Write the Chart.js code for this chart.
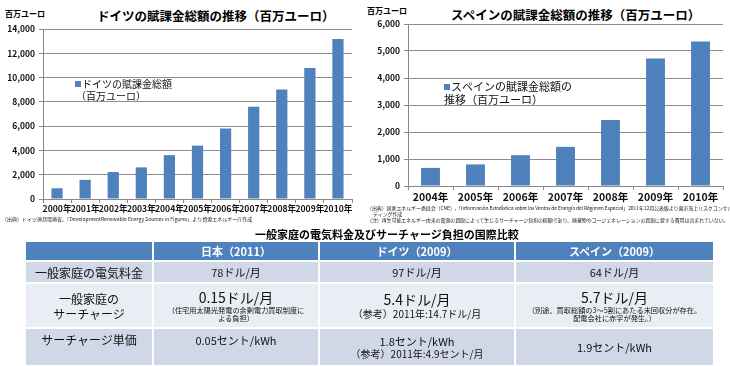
<!DOCTYPE html>
<html><head><meta charset="utf-8">
<script src="https://cdn.jsdelivr.net/npm/chart.js@4.4.1/dist/chart.umd.min.js"></script>
<style>
html,body{margin:0;padding:0;background:#fff;width:730px;height:366px;overflow:hidden;font-family:"Noto Sans CJK JP","Noto Sans",sans-serif;}
.abs{position:absolute;white-space:nowrap;color:#000;}
.title{font-weight:bold;font-size:12.5px;}
.unit{font-weight:bold;font-size:8px;}
.note{font-size:5px;color:#222;line-height:6px;}
table{position:absolute;left:24px;top:240px;width:689px;border-collapse:collapse;table-layout:fixed;}
td,th{border:2px solid #fff;text-align:center;padding:0;color:#111;font-size:6px;line-height:1;}
th{background:#4f81bd;color:#fff;font-weight:bold;font-size:11px;height:18px;}
.r1 td{background:#d0d8e8;height:20px;}
.r2 td{background:#e9edf4;height:43px;}
.r3 td{background:#d0d8e8;height:32px;}
.b{display:block;}
.c1{font-size:12px;line-height:15px;}
.n11{font-size:11px;line-height:14px;}
.big{font-size:14px;line-height:17px;}
.small{font-size:7.2px;line-height:8.5px;}
.mid{font-size:10px;line-height:12px;}
</style></head>
<body>
<div class="abs unit" style="left:5px;top:8px;">百万ユーロ</div>
<div class="abs title" style="left:97px;top:6px;">ドイツの賦課金総額の推移（百万ユーロ）</div>
<div class="abs unit" style="left:367px;top:5px;">百万ユーロ</div>
<div class="abs title" style="left:451px;top:5px;">スペインの賦課金総額の推移（百万ユーロ）</div>
<div style="position:absolute;left:0;top:0;width:365px;height:218px;"><canvas id="c1"></canvas></div>
<div style="position:absolute;left:365px;top:0;width:365px;height:205px;"><canvas id="c2"></canvas></div>
<div class="abs note" style="left:2px;top:216px;">（出典）ドイツ連邦環境省、「DevelopmentRenewable Energy Sources in Figures」より資源エネルギー庁作成</div>
<div class="abs note" style="left:367px;top:205px;letter-spacing:-0.1px;">（出典）国家エネルギー委員会（CNE）,「Información Estadística sobre las Ventas de Energía del Régimen Especial」2011年12月公表版より東京海上リスクコンサル<br>&nbsp;&nbsp;&nbsp;&nbsp;&nbsp;&nbsp;ティング作成</div>
<div class="abs note" style="left:367px;top:217px;letter-spacing:-0.1px;">（注）再生可能エネルギー由来の電源の買取によって生じるサーチャージ負担の総額であり、廃棄物やコージェネレーションの買取に要する費用は含まれていない。</div>
<div class="abs" style="left:255px;top:226px;font-weight:bold;font-size:11px;">一般家庭の電気料金及びサーチャージ負担の国際比較</div>
<table>
<colgroup><col style="width:128px"><col style="width:166px"><col style="width:196px"><col style="width:199px"></colgroup>
<tr><th></th><th>日本（2011）</th><th>ドイツ（2009）</th><th>スペイン（2009）</th></tr>
<tr class="r1"><td><span class="b c1">一般家庭の電気料金</span></td><td><span class="b n11">78ドル/月</span></td><td><span class="b n11">97ドル/月</span></td><td><span class="b n11">64ドル/月</span></td></tr>
<tr class="r2"><td><span class="b c1">一般家庭の</span><span class="b c1">サーチャージ</span></td>
<td><span class="b big">0.15ドル/月</span><span class="b small">（住宅用太陽光発電の余剰電力買取制度に</span><span class="b small">よる負担）</span></td>
<td><span class="b big">5.4ドル/月</span><span class="b mid">（参考）2011年:14.7ドル/月</span></td>
<td><span class="b big">5.7ドル/月</span><span class="b small">（別途、買取総額の3～5割にあたる未回収分が存在。</span><span class="b small">配電会社に赤字が発生。）</span></td></tr>
<tr class="r3"><td style="vertical-align:top;padding-top:3px;"><span class="b c1">サーチャージ単価</span></td>
<td style="vertical-align:top;padding-top:4px;"><span class="b n11">0.05セント/kWh</span></td>
<td><span class="b n11">1.8セント/kWh</span><span class="b mid">（参考）2011年:4.9セント/月</span></td>
<td><span class="b n11">1.9セント/kWh</span></td></tr>
</table>
<script>
const deYears = ["2000年","2001年","2002年","2003年","2004年","2005年","2006年","2007年","2008年","2009年","2010年"];
const deValues = [883, 1577, 2226, 2604, 3611, 4398, 5810, 7592, 9016, 10780, 13182];
const deLabel = ["ドイツの賦課金総額","（百万ユーロ）"];
const esYears = ["2004年","2005年","2006年","2007年","2008年","2009年","2010年"];
const esValues = [670, 800, 1140, 1450, 2440, 4720, 5350];
const esLabel = ["スペインの賦課金総額の","推移（百万ユーロ）"];
const deTicks = {min:0, max:14000, step:2000};
const esTicks = {min:0, max:6000, step:1000};

const FONT = '"Noto Sans CJK JP","Noto Sans",sans-serif';
const BAR = '#4f81bd';

const innerLegend = {
  id:'innerLegend',
  afterDraw(chart, args, opts){
    const {ctx, chartArea} = chart;
    const x = chartArea.left + opts.dx, y = chartArea.top + opts.dy;
    const lines = chart.data.datasets[0].label;
    ctx.save();
    ctx.fillStyle = BAR;
    ctx.fillRect(x, y - opts.sq/2, opts.sq, opts.sq);
    ctx.fillStyle = '#111';
    ctx.font = opts.size + 'px ' + FONT;
    ctx.textBaseline = 'middle';
    ctx.textAlign = 'left';
    lines.forEach((t,i)=>ctx.fillText(t, x + opts.sq + 1 + (i ? opts.indent2 : 0), y + i*opts.lh));
    ctx.restore();
  }
};

function make(id, labels, values, label, tk, cfg){
  return new Chart(document.getElementById(id), {
    type:'bar',
    data:{labels, datasets:[{label, data:values, backgroundColor:BAR, borderWidth:0,
      barPercentage:cfg.bp, categoryPercentage:1}]},
    options:{
      responsive:true, maintainAspectRatio:false, animation:false,
      layout:{padding:{top:cfg.top, right:cfg.right, left:0, bottom:0}},
      plugins:{legend:{display:false}, tooltip:{enabled:false}, title:{display:false},
        innerLegend:cfg.legend},
      scales:{
        x:{offset:true,
          grid:{display:true, drawOnChartArea:false, drawTicks:true, tickLength:4, color:'#888', offset:true},
          border:{display:true, color:'#888'},
          ticks:{autoSkip:false, maxRotation:0, minRotation:0, padding:1, color:'#111',
            font:{family:FONT, size:cfg.xfs, weight:'bold'}},
          afterFit(s){ s.height = cfg.xh; }
        },
        y:{min:tk.min, max:tk.max,
          grid:{color:'#8c8c8c', drawTicks:true, tickLength:4},
          border:{display:true, color:'#888'},
          ticks:{stepSize:tk.step, padding:4, color:'#111',
            font:{family:FONT, size:cfg.yfs, weight:'bold'},
            callback:v=>v.toLocaleString('en-US')},
          afterFit(s){ s.width = cfg.yw; }
        }
      }
    },
    plugins:[innerLegend]
  });
}

make('c1', deYears, deValues, deLabel, deTicks,
  {bp:0.4, top:29, right:13, xh:19, yw:43, xfs:8.6, yfs:8.5,
   legend:{dx:32, dy:55, sq:6, size:10, lh:12, indent2:-6}});
make('c2', esYears, esValues, esLabel, esTicks,
  {bp:0.42, top:24, right:7, xh:19, yw:43, xfs:10.5, yfs:8.5,
   legend:{dx:36, dy:63, sq:6, size:11, lh:13, indent2:-7}});
</script>
</body></html>
